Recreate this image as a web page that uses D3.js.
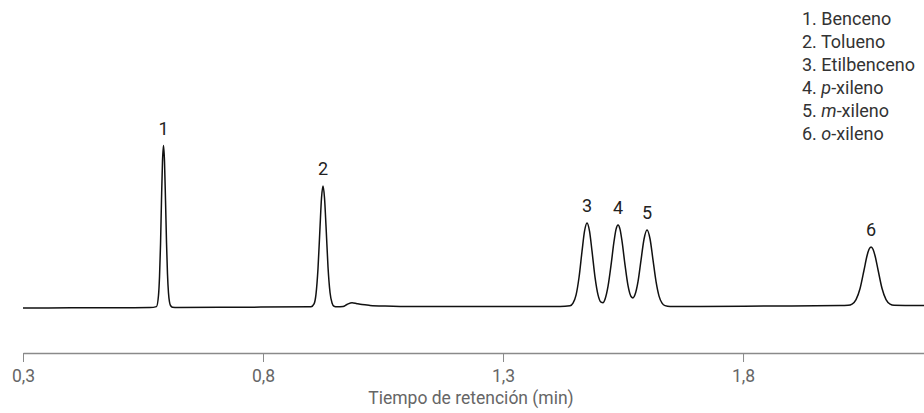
<!DOCTYPE html>
<html>
<head>
<meta charset="utf-8">
<script src="https://cdn.jsdelivr.net/npm/d3@7"></script>
<style>
  html, body { margin: 0; padding: 0; background: #fff; }
  svg { display: block; font-family: Roboto, "Noto Sans", sans-serif; }
</style>
</head>
<body>
<svg id="chart" width="924" height="413"></svg>
<script>
// Retention time (min) and detector signal (arbitrary units)
const timeValues = [
  0.300, 0.400, 0.500, 0.5646, 0.5781, 0.5823, 0.5844, 0.5865, 0.5885, 0.5906,
  0.5927, 0.5948, 0.5969, 0.5990, 0.6010, 0.6031, 0.6052, 0.6073, 0.6115, 0.6219,
  0.750, 0.900, 0.9063, 0.9104, 0.9146, 0.9188, 0.9219, 0.9250, 0.9281, 0.9313,
  0.9354, 0.9396, 0.9438, 0.9479, 0.9542, 0.9667, 0.9750, 0.9854, 0.9958, 1.0063,
  1.0229, 1.0542, 1.0854, 1.250, 1.4188, 1.4396, 1.4458, 1.4521, 1.4583, 1.4646,
  1.4698, 1.4750, 1.4802, 1.4854, 1.4917, 1.4979, 1.5042, 1.5083, 1.5125, 1.5188,
  1.5250, 1.5313, 1.5354, 1.5396, 1.5438, 1.5479, 1.5542, 1.5604, 1.5667, 1.5708,
  1.5750, 1.5813, 1.5875, 1.5938, 1.6000, 1.6063, 1.6125, 1.6188, 1.6250, 1.6313,
  1.6375, 1.6479, 1.7104, 1.850, 2.0021, 2.0188, 2.0271, 2.0354, 2.0438, 2.0521,
  2.0583, 2.0625, 2.0667, 2.0708, 2.0750, 2.0813, 2.0896, 2.0979, 2.1063, 2.1146,
  2.1375, 2.177
];
const signalValues = [
  0, 0.2, 0.3, 0.4, 1.4, 12.7, 31.2, 63.4, 107.4, 146.4,
  162.4, 146.4, 107.4, 65, 34, 15, 6, 2.5, 0.8, 0.5,
  0.8, 1.2, 4.1, 13.9, 39.7, 81.2, 110.2, 122, 110.2, 81.5,
  41, 15.5, 5, 1.8, 1.2, 1.5, 3.5, 5.3, 4.3, 3.4,
  2.6, 1.9, 1.6, 1.5, 1.5, 2.2, 4.8, 12.8, 30.5, 56.8,
  76.8, 85, 76.8, 56.8, 30.6, 13.1, 5.8, 5.2, 8.8, 21.8,
  42.8, 66.8, 78.6, 83, 78.6, 66.8, 42.9, 22.3, 11.5, 10.1,
  13.4, 26.6, 47.9, 69, 78, 69, 47.9, 26.3, 11.9, 4.9,
  2.4, 1.6, 1.6, 2.0, 2.4, 2.7, 3.9, 8.4, 19.5, 38,
  52.2, 58.7, 61, 58.7, 52.2, 38, 19.5, 8.4, 3.9, 2.7,
  2.6, 2.6
];

// Peak annotations
const peakLabels = ["1", "2", "3", "4", "5", "6"];
const peakTimes = [0.5927, 0.925, 1.475, 1.5396, 1.600, 2.0667];
const peakHeights = [162.4, 122, 85, 83, 78, 61];

// Legend (compound names); italic prefix for isomers
const legendNumbers = ["1.", "2.", "3.", "4.", "5.", "6."];
const legendItalic = ["", "", "", "p", "m", "o"];
const legendNames = ["Benceno", "Tolueno", "Etilbenceno", "-xileno", "-xileno", "-xileno"];

// Axis
const xTicks = [0.3, 0.8, 1.3, 1.8];
const xTitle = "Tiempo de retención (min)";

const svg = d3.select("#chart");
const FONT = 17.5;
const LEGEND_FONT = 18;

const x = d3.scaleLinear().domain([0.3, 2.177]).range([23, 924]);
const y = d3.scaleLinear().domain([0, 162.4]).range([308, 145.6]);

const locale = d3.formatLocale({ decimal: ",", thousands: ".", grouping: [3], currency: ["", " €"] });
const fmt = locale.format(".1f");

// X axis
const axisY = 353;
const gx = svg.append("g")
  .attr("transform", `translate(0,${axisY})`)
  .call(d3.axisBottom(x).tickValues(xTicks).tickFormat(fmt).tickSize(9).tickSizeOuter(0).tickPadding(8));
gx.select(".domain").attr("stroke", "#8a8a8a").attr("stroke-width", 1.5);
gx.selectAll(".tick line").attr("stroke", "#8a8a8a").attr("stroke-width", 1);
gx.selectAll(".tick text")
  .attr("fill", "#666")
  .style("font-size", FONT + "px")
  .style("font-family", "Roboto, sans-serif");

svg.append("text")
  .attr("x", 471).attr("y", 404)
  .attr("text-anchor", "middle")
  .attr("fill", "#666")
  .style("font-size", FONT + "px")
  .text(xTitle);

// Trace
const pts = timeValues.map((t, i) => [t, signalValues[i]]);
const line = d3.line()
  .x(d => x(d[0]))
  .y(d => y(d[1]))
  .curve(d3.curveMonotoneX);
svg.append("path")
  .datum(pts)
  .attr("d", line)
  .attr("fill", "none")
  .attr("stroke", "#111")
  .attr("stroke-width", 1.5)
  .attr("stroke-linejoin", "round");

// Peak labels
svg.append("g").selectAll("text")
  .data(peakLabels)
  .join("text")
  .attr("x", (d, i) => x(peakTimes[i]))
  .attr("y", (d, i) => y(peakHeights[i]) - 11)
  .attr("text-anchor", "middle")
  .attr("fill", "#222")
  .style("font-size", LEGEND_FONT + "px")
  .text(d => d);

// Legend
const lg = svg.append("g").attr("transform", "translate(802,0)");
const rows = lg.selectAll("text")
  .data(legendNames)
  .join("text")
  .attr("x", 0)
  .attr("y", (d, i) => 25 + i * 23)
  .attr("fill", "#333")
  .style("font-size", LEGEND_FONT + "px");
rows.append("tspan").text((d, i) => legendNumbers[i] + " ");
rows.append("tspan").style("font-style", "italic").text((d, i) => legendItalic[i]);
rows.append("tspan").text(d => d);
</script>
</body>
</html>
